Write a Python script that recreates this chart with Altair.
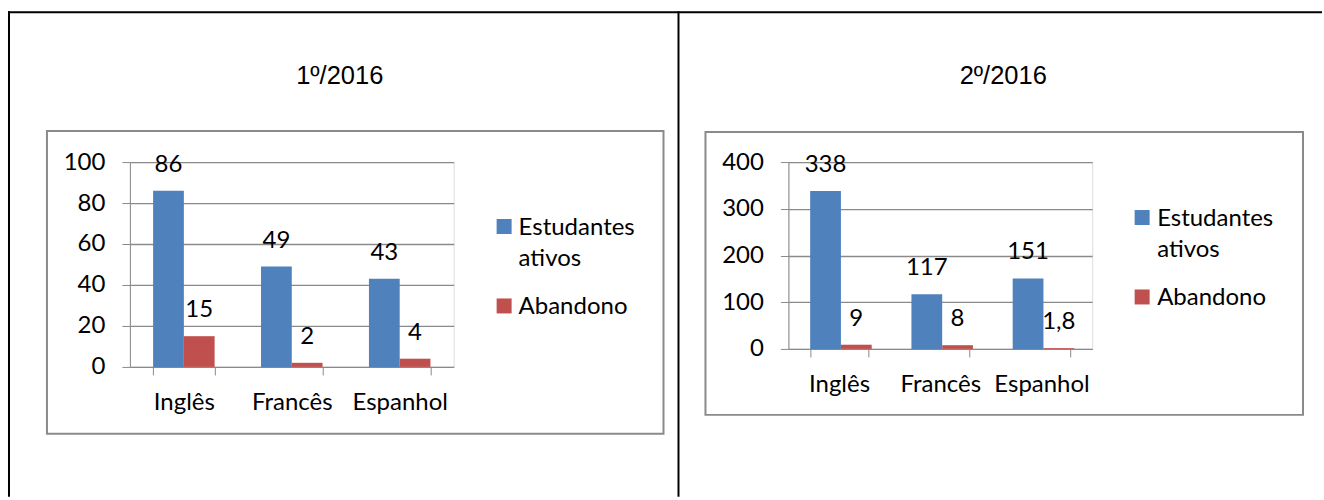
import altair as alt
import pandas as pd

# Categories and series
languages = ["Inglês", "Francês", "Espanhol"]
series = ["Estudantes ativos", "Abandono"]
series_colors = ["#4F81BD", "#C0504D"]

# First semester
sem1_title = "1º/2016"
sem1_ativos = [86, 49, 43]
sem1_abandono = [15, 2, 4]
sem1_ticks = [0, 20, 40, 60, 80, 100]

# Second semester
sem2_title = "2º/2016"
sem2_ativos = [338, 117, 151]
sem2_abandono = [9, 8, 1.8]
sem2_ticks = [0, 100, 200, 300, 400]

FONT = "Lato"
TITLE_FONT = "Liberation Sans"
FS = 24
GRAY = "#8a8a8a"

PAGE_W, PAGE_H = 1322, 496


def fmt(v):
    return f"{v:g}".replace(".", ",")


def table(ativos, abandono):
    rows = []
    for i, lang in enumerate(languages):
        for s, vals in zip(series, [ativos, abandono]):
            rows.append({"idioma": lang, "serie": s, "valor": vals[i], "rotulo": fmt(vals[i])})
    return pd.DataFrame(rows)


color_scale = alt.Scale(domain=series, range=series_colors)
one_row = pd.DataFrame({"k": [0]})


def panel(title, ativos, abandono, ticks, geo, frame=False):
    ox, oy, w, h = geo["plot"]
    df = table(ativos, abandono)

    x_enc = alt.X(
        "idioma:N", sort=languages, title=None,
        scale=alt.Scale(paddingInner=0.43, paddingOuter=0.215),
        axis=alt.Axis(labelAngle=0, tickBand="extent", tickSize=8, labelPadding=16,
                      domainColor=GRAY, tickColor=GRAY, labelFont=FONT, labelFontSize=FS,
                      labelColor="black", grid=False),
    )
    xo_enc = alt.XOffset("serie:N", sort=series, scale=alt.Scale(paddingInner=0, paddingOuter=0))
    y_scale = alt.Scale(domain=[0, ticks[-1]], nice=False)

    bars = alt.Chart(df).mark_bar().encode(
        x=x_enc,
        xOffset=xo_enc,
        y=alt.Y("valor:Q", scale=y_scale, title=None,
                axis=alt.Axis(values=ticks, tickSize=8, labelPadding=17, domainColor=GRAY,
                              tickColor=GRAY, gridColor=GRAY, gridWidth=1.3, labelFont=FONT,
                              labelFontSize=FS, labelColor="black")),
        color=alt.Color("serie:N", scale=color_scale, legend=None),
    )

    labels = alt.Chart(df).mark_text(
        baseline="alphabetic", dy=-19, font=FONT, fontSize=FS, color="black"
    ).encode(
        x=alt.X("idioma:N", sort=languages),
        xOffset=xo_enc,
        y=alt.Y("valor:Q", scale=y_scale, axis=None),
        text="rotulo:N",
    )

    # chart border box
    bx1, by1, bx2, by2 = geo["box"]
    box = alt.Chart(one_row).mark_rect(fillOpacity=0, stroke=GRAY, strokeWidth=2).encode(
        x=alt.value(bx1 - ox), x2=alt.value(bx2 - ox),
        y=alt.value(by1 - oy), y2=alt.value(by2 - oy),
    )

    tx, ty = geo["title"]
    title_mark = alt.Chart(pd.DataFrame({"titulo": [title]})).mark_text(
        font=TITLE_FONT, fontSize=25.5, align="center", baseline="alphabetic", color="black"
    ).encode(x=alt.value(tx - ox), y=alt.value(ty - oy), text="titulo:N")

    # legend built from the series list
    lx, ly1, ly2, ltx = geo["legend"]
    leg_df = pd.DataFrame({"serie": series})
    leg_y = alt.Y("serie:N", sort=series, axis=None,
                  scale=alt.Scale(type="point", domain=series, range=[ly1 - oy, ly2 - oy], padding=0))
    leg_sq = alt.Chart(leg_df).mark_square(size=225, opacity=1).encode(
        x=alt.value(lx - ox), y=leg_y,
        color=alt.Color("serie:N", scale=color_scale, legend=None),
    )
    leg_txt = alt.Chart(leg_df).mark_text(
        align="left", baseline="alphabetic", dy=8, lineBreak=" ", lineHeight=32,
        font=FONT, fontSize=FS, color="black"
    ).encode(x=alt.value(ltx - ox), y=leg_y, text="serie:N")

    layers = [box, bars, labels, title_mark, leg_sq, leg_txt]

    if frame:
        # page canvas and table frame lines (page coordinates shifted to this panel)
        canvas = alt.Chart(one_row).mark_rect(opacity=0).encode(
            x=alt.value(-ox), x2=alt.value(PAGE_W - ox),
            y=alt.value(-oy), y2=alt.value(PAGE_H - oy),
        )
        top = alt.Chart(one_row).mark_rule(color="black", strokeWidth=2).encode(
            x=alt.value(7 - ox), x2=alt.value(PAGE_W - ox),
            y=alt.value(11 - oy), y2=alt.value(11 - oy),
        )
        left = alt.Chart(one_row).mark_rule(color="black", strokeWidth=2).encode(
            x=alt.value(8 - ox), x2=alt.value(8 - ox),
            y=alt.value(10 - oy), y2=alt.value(PAGE_H - oy),
        )
        mid = alt.Chart(one_row).mark_rule(color="black", strokeWidth=2).encode(
            x=alt.value(678 - ox), x2=alt.value(678 - ox),
            y=alt.value(10 - oy), y2=alt.value(PAGE_H - oy),
        )
        layers = [canvas, top, left, mid] + layers

    return alt.layer(*layers).resolve_scale(y="independent").properties(width=w, height=h)


geo1 = {
    "plot": (129, 161, 324, 205),
    "box": (46, 130, 663, 433),
    "title": (339, 83),
    "legend": (503.5, 225.5, 305, 518),
}
geo2 = {
    "plot": (788, 161, 304, 187),
    "box": (705, 131, 1303, 414),
    "title": (1003, 83),
    "legend": (1142, 216.5, 296, 1157),
}

left_panel = panel(sem1_title, sem1_ativos, sem1_abandono, sem1_ticks, geo1, frame=True)
right_panel = panel(sem2_title, sem2_ativos, sem2_abandono, sem2_ticks, geo2)

spacing = geo2["plot"][0] - (geo1["plot"][0] + geo1["plot"][2])

chart = alt.hconcat(left_panel, right_panel, spacing=spacing, bounds="flush").properties(
    padding=0, autosize=alt.AutoSizeParams(type="pad")
).configure_view(stroke=None).configure(background="white")

chart.save("out.html", embed_options={"renderer": "svg", "actions": False})
